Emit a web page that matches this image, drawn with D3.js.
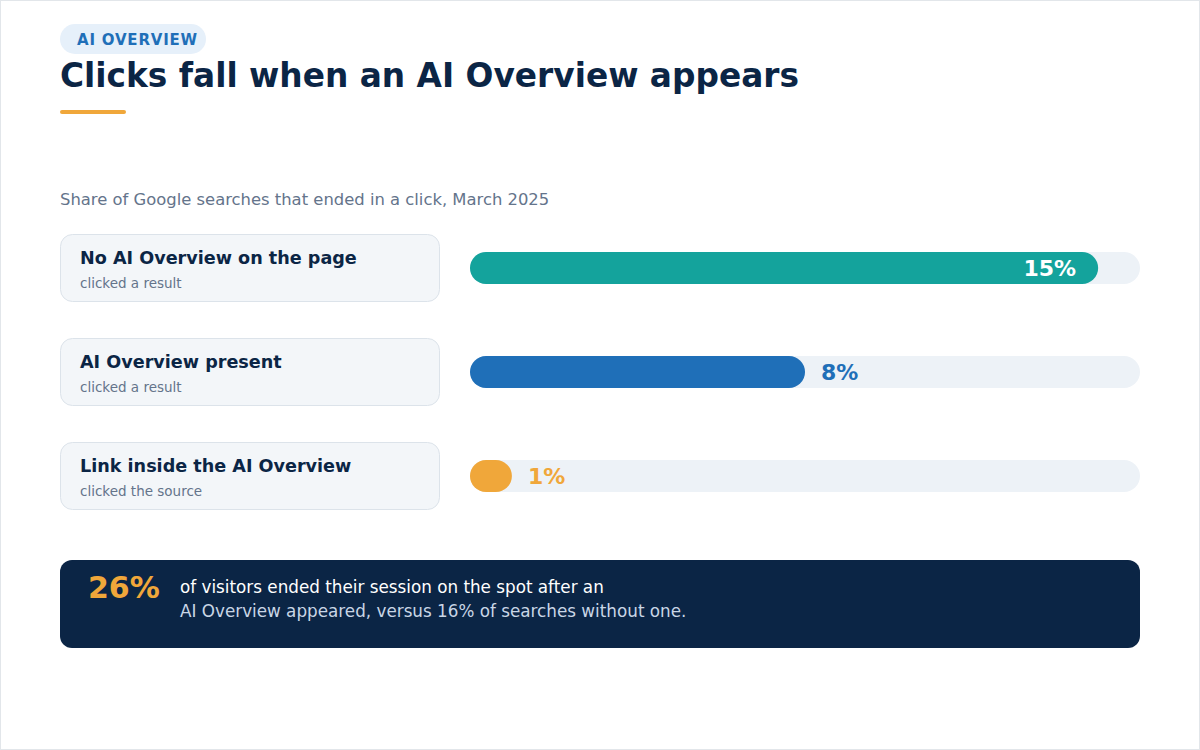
<!DOCTYPE html>
<html>
<head>
<meta charset="utf-8">
<script src="https://cdn.jsdelivr.net/npm/d3@7"></script>
<style>
  html, body { margin: 0; padding: 0; background: #ffffff; }
  svg { display: block; font-family: "DejaVu Sans", sans-serif; }
</style>
</head>
<body>
<div id="chart"></div>
<script>
// Data
const categories = ["No AI Overview on the page", "AI Overview present", "Link inside the AI Overview"];
const subLabels = ["clicked a result", "clicked a result", "clicked the source"];
const clickShare = [15, 8, 1];
const barColors = ["#14a39c", "#1f6fb8", "#f0a73a"];
const scaleMax = 16;

const width = 1200, height = 750;

const svg = d3.select("#chart")
    .append("svg")
    .attr("width", width)
    .attr("height", height);

// page border
svg.append("rect")
    .attr("x", 0.5).attr("y", 0.5)
    .attr("width", width - 1).attr("height", height - 1)
    .attr("fill", "#ffffff")
    .attr("stroke", "#e2e6ea");

// Header pill
svg.append("rect")
    .attr("x", 60).attr("y", 24)
    .attr("width", 146).attr("height", 30)
    .attr("rx", 15)
    .attr("fill", "#e6f0fa");

svg.append("text")
    .attr("x", 77).attr("y", 45)
    .attr("fill", "#1f6fb8")
    .style("font-size", "15px")
    .style("font-weight", "bold")
    .style("letter-spacing", "0.8px")
    .text("AI OVERVIEW");

svg.append("text")
    .attr("x", 60).attr("y", 87)
    .attr("fill", "#0b2545")
    .style("font-size", "32.8px")
    .style("font-weight", "bold")
    .text("Clicks fall when an AI Overview appears");

svg.append("rect")
    .attr("x", 60).attr("y", 110)
    .attr("width", 66).attr("height", 4)
    .attr("rx", 2)
    .attr("fill", "#f0a73a");

svg.append("text")
    .attr("x", 60).attr("y", 205)
    .attr("fill", "#64748b")
    .style("font-size", "16.4px")
    .text("Share of Google searches that ended in a click, March 2025");

// Scales
const cardH = 68;
const yScale = d3.scaleBand()
    .domain(categories)
    .range([234, 234 + 3 * cardH + 2 * 36])
    .paddingInner(36 / 104)
    .paddingOuter(0);

const xScale = d3.scaleLinear()
    .domain([0, scaleMax])
    .range([470, 1140]);

const rows = svg.selectAll("g.row")
    .data(categories.map((c, i) => ({ name: c, sub: subLabels[i], value: clickShare[i], color: barColors[i] })))
    .enter().append("g")
    .attr("class", "row")
    .attr("transform", d => "translate(0," + yScale(d.name) + ")");

// label cards
rows.append("rect")
    .attr("x", 60.5).attr("y", 0.5)
    .attr("width", 379).attr("height", yScale.bandwidth() - 1)
    .attr("rx", 12)
    .attr("fill", "#f3f6f9")
    .attr("stroke", "#dce3ea");

rows.append("text")
    .attr("x", 80).attr("y", 30)
    .attr("fill", "#0b2545")
    .style("font-size", "17.6px")
    .style("font-weight", "bold")
    .text(d => d.name);

rows.append("text")
    .attr("x", 80).attr("y", 54)
    .attr("fill", "#64748b")
    .style("font-size", "13.5px")
    .text(d => d.sub);

// bar tracks
const barH = 32, barY = (cardH - barH) / 2;
rows.append("rect")
    .attr("x", xScale(0)).attr("y", barY)
    .attr("width", xScale(scaleMax) - xScale(0))
    .attr("height", barH)
    .attr("rx", barH / 2)
    .attr("fill", "#edf2f7");

rows.append("rect")
    .attr("x", xScale(0)).attr("y", barY)
    .attr("width", d => xScale(d.value) - xScale(0))
    .attr("height", barH)
    .attr("rx", barH / 2)
    .attr("fill", d => d.color);

// value labels: inside for long bars, outside for short
rows.append("text")
    .attr("x", d => d.value > 10 ? xScale(d.value) - 22 : xScale(d.value) + 16)
    .attr("y", barY + barH / 2 + 8)
    .attr("text-anchor", d => d.value > 10 ? "end" : "start")
    .attr("fill", d => d.value > 10 ? "#ffffff" : d.color)
    .style("font-size", "22px")
    .style("font-weight", "bold")
    .text(d => d.value + "%");

// Footer callout
svg.append("rect")
    .attr("x", 60).attr("y", 560)
    .attr("width", 1080).attr("height", 88)
    .attr("rx", 12)
    .attr("fill", "#0b2545");

svg.append("text")
    .attr("x", 88).attr("y", 598)
    .attr("fill", "#f0a73a")
    .style("font-size", "30px")
    .style("font-weight", "bold")
    .text("26%");

svg.append("text")
    .attr("x", 180).attr("y", 593)
    .attr("fill", "#ffffff")
    .style("font-size", "16.8px")
    .text("of visitors ended their session on the spot after an");

svg.append("text")
    .attr("x", 180).attr("y", 617)
    .attr("fill", "#c9d6e6")
    .style("font-size", "16.8px")
    .text("AI Overview appeared, versus 16% of searches without one.");
</script>
</body>
</html>
